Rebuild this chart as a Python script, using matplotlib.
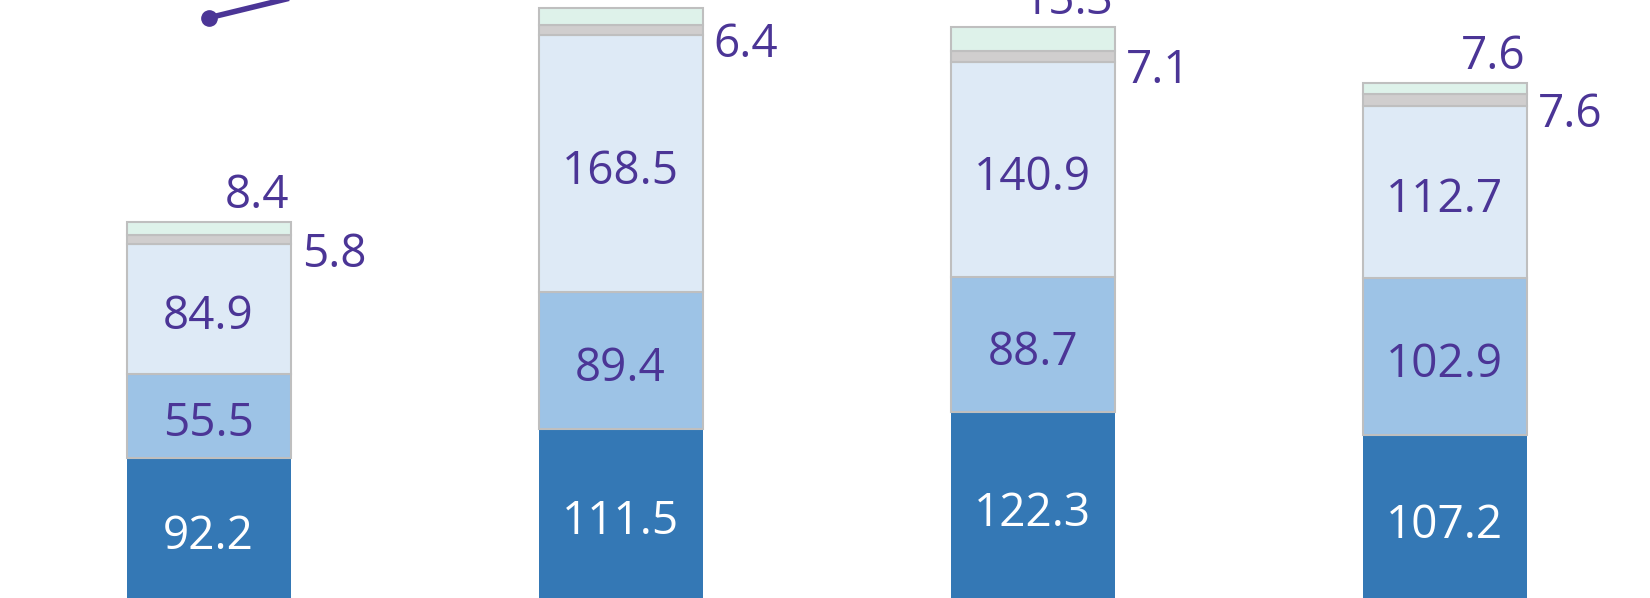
import matplotlib.pyplot as plt
import numpy as np

plt.rcParams['font.family'] = ['Open Sans', 'DejaVu Sans']

# stacked segments, bottom to top
seg_dark = [92.2, 111.5, 122.3, 107.2]
seg_mid = [55.5, 89.4, 88.7, 102.9]
seg_light = [84.9, 168.5, 140.9, 112.7]
seg_gray = [5.8, 6.4, 7.1, 7.6]
seg_mint = [8.4, 11.0, 15.3, 7.6]
# line series (only the first point falls inside the visible crop)
line_vals = [380.5, 446.0, 462.0, 455.0]

purple = '#4B3596'
x = np.arange(len(seg_dark))
w = 0.398

fig = plt.figure(figsize=(16.5, 5.98), dpi=100)
ax = fig.add_axes([0, 0, 1, 1])

bottom = np.zeros(len(x))
layers = [
    (seg_dark, '#3478B5', 'none'),
    (seg_mid, '#9DC3E6', '#BFBFBF'),
    (seg_light, '#DEEAF6', '#BFBFBF'),
    (seg_gray, '#D0CECE', '#BFBFBF'),
    (seg_mint, '#DEF2EA', '#BFBFBF'),
]
tops = []
for vals, col, ec in layers:
    vals = np.array(vals)
    ax.bar(x, vals, w, bottom=bottom, color=col, edgecolor=ec, linewidth=1.5, zorder=2)
    tops.append(bottom + vals)
    bottom = bottom + vals

fs = 33
def inner(xi, yc, txt, col):
    ax.annotate(txt, (xi, yc), xytext=(0, -6), textcoords='offset points',
                ha='center', va='center', color=col, fontsize=fs, zorder=3)

for i in range(len(x)):
    inner(x[i], seg_dark[i] / 2, f'{seg_dark[i]:.1f}', 'white')
    inner(x[i], tops[0][i] + seg_mid[i] / 2, f'{seg_mid[i]:.1f}', purple)
    inner(x[i], tops[1][i] + seg_light[i] / 2, f'{seg_light[i]:.1f}', purple)
    ax.annotate(f'{seg_gray[i]:.1f}', (x[i] + w / 2, tops[3][i]), xytext=(8, 2),
                textcoords='offset points', ha='left', va='top', color=purple, fontsize=fs)
    ax.annotate(f'{seg_mint[i]:.1f}', (x[i] + w / 2, tops[4][i]), xytext=(-1, 2),
                textcoords='offset points', ha='right', va='bottom', color=purple, fontsize=fs)

ax.plot(x, line_vals, color=purple, lw=4, marker='o', ms=11, zorder=4)

ax.set_xlim(-0.506, 3.498)
ax.set_ylim(0.85, 392.2)
ax.axis('off')

fig.savefig('out.png', dpi=100)
